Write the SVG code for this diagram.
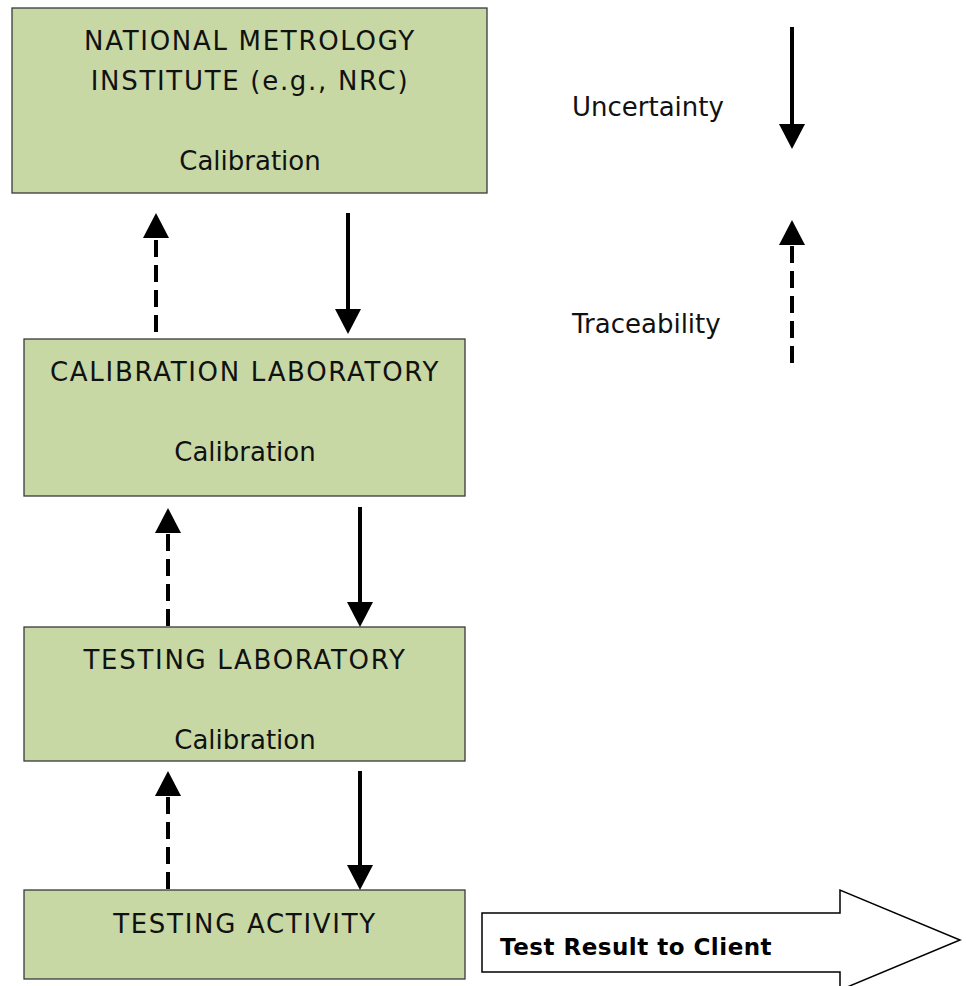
<svg xmlns="http://www.w3.org/2000/svg" width="966" height="986" viewBox="0 0 966 986">
<style>
.box{fill:#c7d8a5;stroke:#3a3a3a;stroke-width:1.3}
.t{font-family:"DejaVu Sans",sans-serif;font-size:26px;fill:#111;text-anchor:middle}
.caps{letter-spacing:1.7px}
.leg{font-family:"DejaVu Sans",sans-serif;font-size:26px;fill:#111}
.solid{stroke:#000;stroke-width:4;fill:none}
.dash{stroke:#000;stroke-width:4;fill:none;stroke-dasharray:17 8}
.big{fill:#fff;stroke:#000;stroke-width:1.5}
.bt{font-family:"DejaVu Sans",sans-serif;font-size:23px;font-weight:bold;fill:#000;letter-spacing:0.5px}
</style>
<defs>
<marker id="ah" viewBox="0 0 25 26" refX="0" refY="13" markerWidth="25" markerHeight="26" markerUnits="userSpaceOnUse" orient="auto">
<path d="M0,0 L25,13 L0,26 z" fill="#000"/>
</marker>
</defs>
<rect width="966" height="986" fill="#fff"/>
<g id="nmi">
<rect class="box" x="12" y="8" width="475" height="185"/>
<text class="t caps" x="250" y="50">NATIONAL METROLOGY</text>
<text class="t caps" x="250" y="90">INSTITUTE (e.g., NRC)</text>
<text class="t" x="250" y="170">Calibration</text>
</g>
<g id="callab">
<rect class="box" x="24" y="339" width="441" height="157"/>
<text class="t caps" x="245" y="381">CALIBRATION LABORATORY</text>
<text class="t" x="245" y="461">Calibration</text>
</g>
<g id="testlab">
<rect class="box" x="24" y="627" width="441" height="134"/>
<text class="t caps" x="245" y="669">TESTING LABORATORY</text>
<text class="t" x="245" y="749">Calibration</text>
</g>
<g id="testact">
<rect class="box" x="24" y="890" width="441" height="89"/>
<text class="t caps" x="245" y="933">TESTING ACTIVITY</text>
</g>
<g id="result">
<path class="big" d="M482,913 L840,913 L840,890 L960,940 L840,990 L840,972 L482,972 Z"/>
<text class="bt" x="500" y="955">Test Result to Client</text>
</g>
<g id="legend">
<text class="leg" x="572" y="116">Uncertainty</text>
<text class="leg" x="572" y="333">Traceability</text>
</g>
<g id="connectors">
<line class="dash" x1="156" y1="332" x2="156" y2="238" marker-end="url(#ah)"/>
<line class="solid" x1="348" y1="213" x2="348" y2="309" marker-end="url(#ah)"/>
<line class="dash" x1="168" y1="626" x2="168" y2="533" marker-end="url(#ah)"/>
<line class="solid" x1="360" y1="507" x2="360" y2="602" marker-end="url(#ah)"/>
<line class="dash" x1="168" y1="889" x2="168" y2="796" marker-end="url(#ah)"/>
<line class="solid" x1="360" y1="771" x2="360" y2="865" marker-end="url(#ah)"/>
<line class="solid" x1="792" y1="27" x2="792" y2="124" marker-end="url(#ah)"/>
<line class="dash" x1="792" y1="363" x2="792" y2="245" marker-end="url(#ah)"/>
</g>
</svg>
